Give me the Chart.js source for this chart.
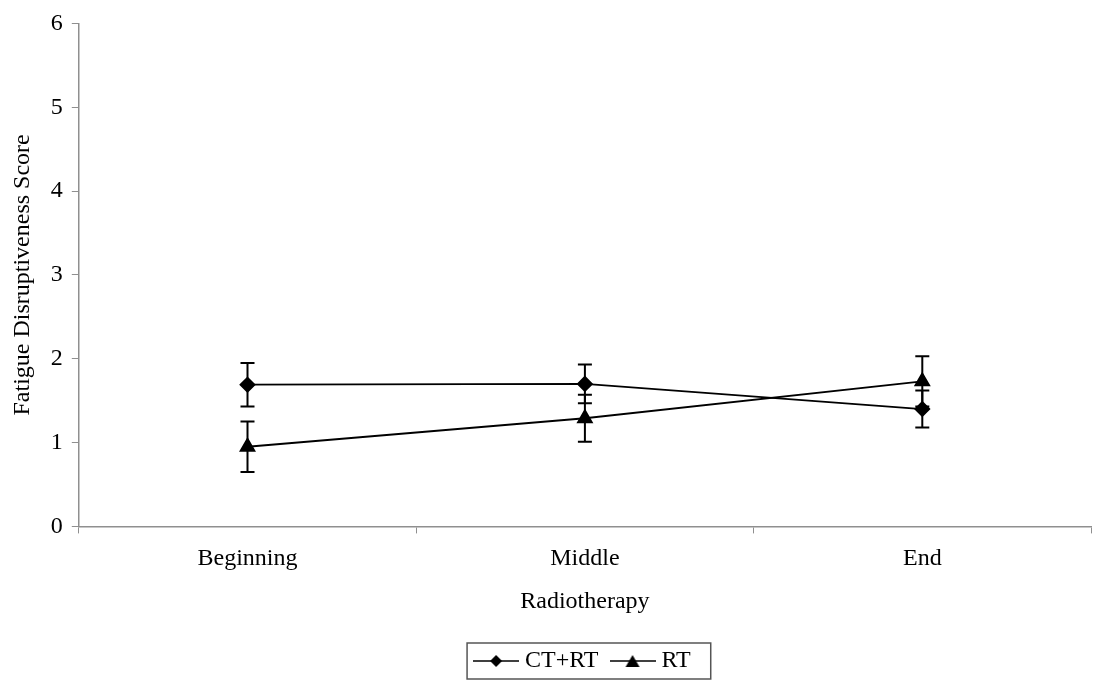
<!DOCTYPE html>
<html>
<head>
<meta charset="utf-8">
<script src="https://cdn.jsdelivr.net/npm/chart.js@4"></script>
<style>
    html, body { margin: 0; padding: 0; background: #fff; }
    #wrap { width: 1093px; height: 681px; }
</style>
</head>
<body>
<div id="wrap"><canvas id="fatigueChart"></canvas></div>
<script>
// Values
const phases = ['Beginning', 'Middle', 'End'];
const ctrtMeans = [1.69, 1.70, 1.40];
const ctrtErrors = [0.26, 0.23, 0.22];
const rtMeans = [0.95, 1.29, 1.73];
const rtErrors = [0.30, 0.28, 0.30];
const yTicks = [0, 1, 2, 3, 4, 5, 6];

const serif = 'Liberation Serif';
const axisGrey = '#8f8f8f';

// Legend sample: short line with the marker in the middle
function legendSample(style) {
    const c = document.createElement('canvas');
    c.width = 46;
    c.height = 16;
    const g = c.getContext('2d');
    g.strokeStyle = '#000';
    g.lineWidth = 1.5;
    g.beginPath();
    g.moveTo(0, 8);
    g.lineTo(46, 8);
    g.stroke();
    g.fillStyle = '#000';
    g.beginPath();
    if (style === 'diamond') {
        g.moveTo(23, 2); g.lineTo(29, 8); g.lineTo(23, 14); g.lineTo(17, 8);
    } else {
        g.moveTo(23, 2); g.lineTo(30, 14); g.lineTo(16, 14);
    }
    g.closePath();
    g.fill();
    return c;
}
const samples = [legendSample('diamond'), legendSample('triangle')];

// Error bars drawn through the y scale, under the markers
const errorBars = {
    id: 'errorBars',
    beforeDatasetsDraw(chart) {
        const ctx = chart.ctx;
        const yScale = chart.scales.y;
        chart.data.datasets.forEach(function(ds, i) {
            const meta = chart.getDatasetMeta(i);
            meta.data.forEach(function(pt, j) {
                const top = yScale.getPixelForValue(ds.data[j] + ds.errors[j]);
                const bottom = yScale.getPixelForValue(ds.data[j] - ds.errors[j]);
                ctx.save();
                ctx.strokeStyle = '#000';
                ctx.lineWidth = 2;
                ctx.beginPath();
                ctx.moveTo(pt.x, top);
                ctx.lineTo(pt.x, bottom);
                ctx.moveTo(pt.x - 7, top);
                ctx.lineTo(pt.x + 7, top);
                ctx.moveTo(pt.x - 7, bottom);
                ctx.lineTo(pt.x + 7, bottom);
                ctx.stroke();
                ctx.restore();
            });
        });
    }
};

// Frame around the legend
const legendFrame = {
    id: 'legendFrame',
    afterDraw(chart) {
        const boxes = chart.legend.legendHitBoxes;
        if (!boxes || !boxes.length) return;
        const first = boxes[0];
        const last = boxes[boxes.length - 1];
        const ctx = chart.ctx;
        ctx.save();
        ctx.strokeStyle = '#555';
        ctx.lineWidth = 1.5;
        ctx.strokeRect(first.left - 12, first.top - 6, last.left + last.width - first.left + 32, first.height + 12);
        ctx.restore();
    }
};

const ctx = document.getElementById('fatigueChart').getContext('2d');
const chart = new Chart(ctx, {
    type: 'line',
    data: {
        labels: phases,
        datasets: [{
            label: 'CT+RT',
            data: ctrtMeans,
            errors: ctrtErrors,
            borderColor: '#000',
            backgroundColor: '#000',
            borderWidth: 1.8,
            pointStyle: 'rectRot',
            pointRadius: 7,
            pointHoverRadius: 7,
            tension: 0
        }, {
            label: 'RT',
            data: rtMeans,
            errors: rtErrors,
            borderColor: '#000',
            backgroundColor: '#000',
            borderWidth: 1.8,
            pointStyle: 'triangle',
            pointRadius: 8,
            pointHoverRadius: 8,
            tension: 0
        }]
    },
    options: {
        responsive: true,
        maintainAspectRatio: false,
        animation: false,
        layout: {
            autoPadding: false,
            padding: { left: 8, right: 2, top: 17, bottom: -2 }
        },
        plugins: {
            legend: {
                position: 'bottom',
                fullSize: false,
                labels: {
                    usePointStyle: true,
                    pointStyleWidth: 34,
                    padding: 17,
                    color: '#000',
                    font: { family: serif, size: 24 },
                    generateLabels: function(chart) {
                        return chart.data.datasets.map(function(ds, i) {
                            return {
                                text: ds.label,
                                pointStyle: samples[i],
                                fillStyle: '#000',
                                strokeStyle: '#000',
                                lineWidth: 0,
                                fontColor: '#000',
                                datasetIndex: i
                            };
                        });
                    }
                }
            },
            tooltip: { enabled: false }
        },
        scales: {
            x: {
                type: 'category',
                offset: true,
                afterFit: function(scale) {
                    scale.paddingLeft = 0;
                    scale.paddingRight = 0;
                },
                grid: {
                    offset: true,
                    drawOnChartArea: false,
                    drawTicks: true,
                    tickLength: 7,
                    color: axisGrey
                },
                border: { color: axisGrey, width: 1.5 },
                ticks: {
                    color: '#000',
                    padding: 11,
                    font: { family: serif, size: 24 }
                },
                title: {
                    display: true,
                    text: 'Radiotherapy',
                    color: '#000',
                    padding: { top: 3, bottom: 16 },
                    font: { family: serif, size: 24 }
                }
            },
            y: {
                min: 0,
                max: 6,
                afterBuildTicks: function(scale) {
                    scale.ticks = yTicks.map(function(v) { return { value: v }; });
                },
                grid: {
                    drawOnChartArea: false,
                    drawTicks: true,
                    tickLength: 7,
                    color: axisGrey
                },
                border: { color: axisGrey, width: 1.5 },
                ticks: {
                    color: '#000',
                    padding: 9,
                    font: { family: serif, size: 24 }
                },
                title: {
                    display: true,
                    text: 'Fatigue Disruptiveness Score',
                    color: '#000',
                    padding: { top: 0, bottom: 5 },
                    font: { family: serif, size: 24 }
                }
            }
        }
    },
    plugins: [errorBars, legendFrame]
});
</script>
</body>
</html>
